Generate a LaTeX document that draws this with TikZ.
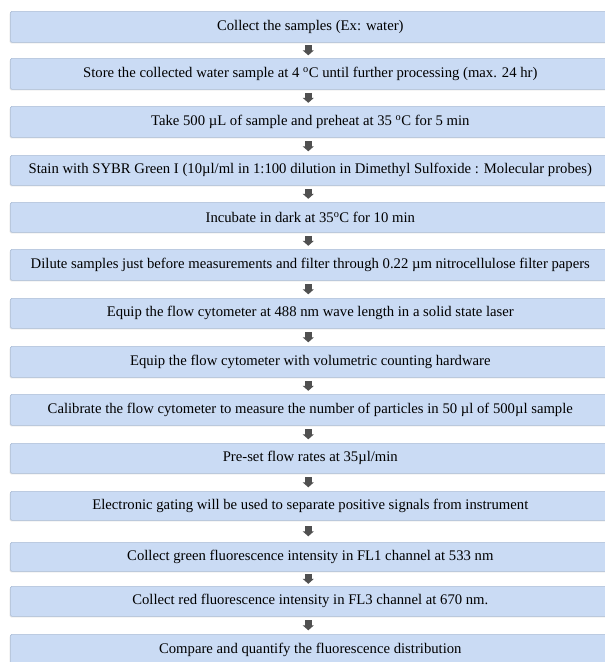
\documentclass[tikz,border=0pt]{standalone}
\usepackage{fontspec}
\setmainfont{Liberation Serif}
\usetikzlibrary{arrows.meta,shadows}
\definecolor{boxfill}{RGB}{202,219,244}
\definecolor{boxline}{RGB}{172,189,214}
\definecolor{arrowgray}{RGB}{80,80,80}
\newcommand\flowarr[2]{%
  \path (#1.south) -- (#2.north) coordinate[pos=0.5] (m#1);
  \draw[flowarrow] ([xshift=-2pt,yshift=5pt]m#1) -- ([xshift=-2pt,yshift=-5pt]m#1);}
\begin{document}
\begin{tikzpicture}[x=1pt,y=-1pt,
  stepbox/.style={draw=boxline, line width=0.6pt, fill=boxfill, rounded corners=1.5pt,
    minimum width=600pt, minimum height=31pt, anchor=north west, inner sep=0pt,
    font=\fontsize{14.7}{17}\selectfont,
    drop shadow={shadow xshift=-0.8pt, shadow yshift=-1pt, opacity=0.22}},
  flowarrow/.style={draw=arrowgray, line width=6.5pt, -{Triangle[width=11pt,length=5pt]}}]
\useasboundingbox (0,0) rectangle (605,662);
\node[stepbox] (n1) at (10,11) {Collect the samples (Ex: water)};
\node[stepbox] (n2) at (10,58) {Store the collected water sample at 4 \textsuperscript{o}C until further processing (max. 24 hr)};
\node[stepbox] (n3) at (10,106) {Take 500 µL of sample and preheat at 35 \textsuperscript{o}C for 5 min};
\node[stepbox, minimum height=30pt] (n4) at (10,155) {Stain with SYBR Green I (10µl/ml in 1:100 dilution in Dimethyl Sulfoxide : Molecular probes)};
\node[stepbox, minimum height=30pt] (n5) at (10,202) {Incubate in dark at 35\textsuperscript{o}C for 10 min};
\node[stepbox] (n6) at (10,249) {Dilute samples just before measurements and filter through 0.22 µm nitrocellulose filter papers};
\node[stepbox, minimum height=30pt] (n7) at (10,298) {Equip the flow cytometer at 488 nm wave length in a solid state laser};
\node[stepbox] (n8) at (10,346) {Equip the flow cytometer with volumetric counting hardware};
\node[stepbox] (n9) at (10,394) {Calibrate the flow cytometer to measure the number of particles in 50 µl of 500µl sample};
\node[stepbox, minimum height=30pt] (n10) at (10,443) {Pre-set flow rates at 35µl/min};
\node[stepbox, minimum height=29pt] (n11) at (10,491) {Electronic gating will be used to separate positive signals from instrument};
\node[stepbox, minimum height=29pt] (n12) at (10,542) {Collect green fluorescence intensity in FL1 channel at 533 nm};
\node[stepbox, minimum height=30pt] (n13) at (10,586) {Collect red fluorescence intensity in FL3 channel at 670 nm.};
\node[stepbox, minimum height=31pt] (n14) at (10,634) {Compare and quantify the fluorescence distribution};
\flowarr{n1}{n2}
\flowarr{n2}{n3}
\flowarr{n3}{n4}
\flowarr{n4}{n5}
\flowarr{n5}{n6}
\flowarr{n6}{n7}
\flowarr{n7}{n8}
\flowarr{n8}{n9}
\flowarr{n9}{n10}
\flowarr{n10}{n11}
\flowarr{n11}{n12}
\flowarr{n12}{n13}
\flowarr{n13}{n14}
\end{tikzpicture}
\end{document}
